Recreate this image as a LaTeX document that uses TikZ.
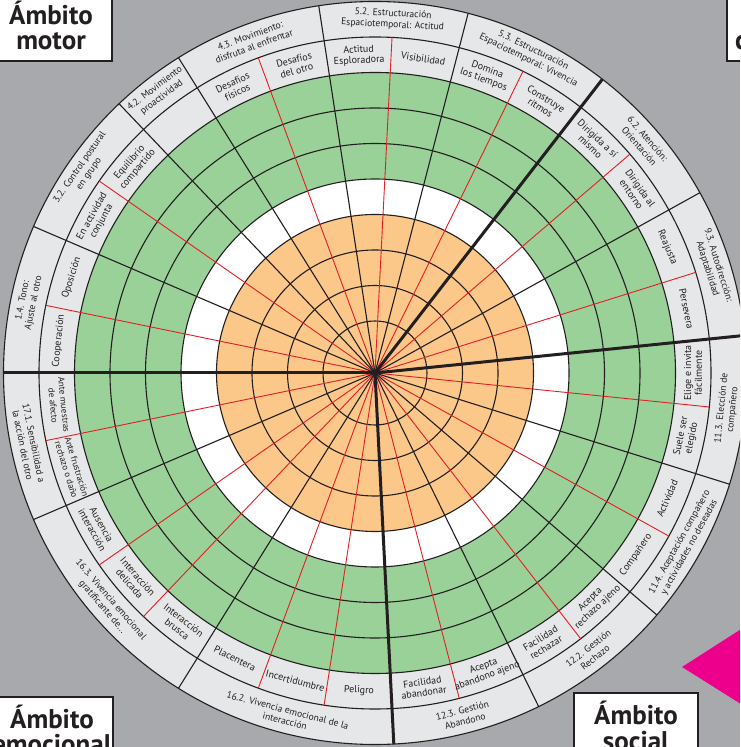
\documentclass[tikz,border=0pt]{standalone}
\usepackage{fontspec}
\setmainfont{PT Sans}
\definecolor{bg}{RGB}{167,169,172}
\definecolor{ringgray}{RGB}{230,231,232}
\definecolor{grn}{RGB}{153,209,153}
\definecolor{org}{RGB}{252,200,138}
\definecolor{redl}{RGB}{227,30,36}
\definecolor{ink}{RGB}{35,31,32}
\definecolor{pinkt}{RGB}{236,0,140}
\tikzset{
  thinline/.style={draw=ink, line width=1.1pt},
  redline/.style={draw=redl, line width=0.9pt},
  domline/.style={draw=ink, line width=3pt},
  inlbl/.style={font=\fontsize{10}{10.8}\selectfont, text=ink, align=center, inner sep=0pt},
  outlbl/.style={font=\fontsize{9.6}{11.2}\selectfont, text=ink, align=center, inner sep=0pt},
  boxtxt/.style={font=\fontsize{27}{27}\selectfont\bfseries, text=ink, inner sep=0pt},
  ambbox/.style={draw=ink, fill=white, line width=1.4pt},
}
\newcommand\seclbl[5]{%
  \pgfmathsetmacro\lblrot{(#3>0)?(#3-90):(#3+90)}%
  \node[#1, rotate=\lblrot] (#2) at (#3:#4) {#5};}
\begin{document}
\begin{tikzpicture}[x=1pt,y=1pt]
\useasboundingbox (0,0) rectangle (740,747);
\clip (0,0) rectangle (740,747);
\fill[bg] (0,0) rectangle (740,747);
\begin{scope}[shift={(375,374)}]
  \fill[ringgray] (0,0) circle (371.5);
  \fill[grn] (0,0) circle (300.5);
  \fill[white] (0,0) circle (194);
  \fill[org] (0,0) circle (158.5);
  \foreach \r in {52,87.5,123,158.5,194,229.5,265,300.5,336,371.5}
    \draw[thinline] (0,0) circle (\r);
  \foreach \j in {1,3,6,8,10,12,14,16,18,20,22,24,25,27,28,30}
    \draw[redline] (0,0) -- ({180-\j*360/31}:336);
  \foreach \j in {2,4,5,7,9,13,17,19,21,26,29}
    \draw[thinline] (0,0) -- ({180-\j*360/31}:371.5);
  \foreach \j in {0,11,15,23}
    \draw[domline] (0,0) -- ({180-\j*360/31}:371.5);
  % inner ring labels
  \seclbl{inlbl}{s0}{174.19}{318}{Cooperación}
  \seclbl{inlbl}{s1}{162.58}{318}{Oposición}
  \seclbl{inlbl}{s2}{150.97}{318}{En actividad\\conjunta}
  \seclbl{inlbl}{s3}{139.35}{318}{Equilibrio\\compartido}
  \seclbl{inlbl}{s5}{116.13}{318}{Desafíos\\físicos}
  \seclbl{inlbl}{s6}{104.52}{318}{Desafíos\\del otro}
  \seclbl{inlbl}{s7}{92.90}{318}{Actitud\\Esploradora}
  \seclbl{inlbl}{s8}{81.29}{318}{Visibilidad}
  \seclbl{inlbl}{s9}{69.68}{318}{Domina\\los tiempos}
  \seclbl{inlbl}{s10}{58.06}{318}{Construye\\ritmos}
  \seclbl{inlbl}{s11}{46.45}{318}{Dirigida a sí\\mismo}
  \seclbl{inlbl}{s12}{34.84}{318}{Dirigida al\\entorno}
  \seclbl{inlbl}{s13}{23.23}{318}{Reajusta}
  \seclbl{inlbl}{s14}{11.61}{318}{Persevera}
  \seclbl{inlbl}{s15}{0}{318}{Elige e invita\\fácilmente}
  \seclbl{inlbl}{s16}{-11.61}{318}{Suele ser\\elegido}
  \seclbl{inlbl}{s17}{-23.23}{318}{Actividad}
  \seclbl{inlbl}{s18}{-34.84}{318}{Compañero}
  \seclbl{inlbl}{s19}{-46.45}{318}{Acepta\\rechazo ajeno}
  \seclbl{inlbl}{s20}{-58.06}{318}{Facilidad\\rechazar}
  \seclbl{inlbl}{s21}{-69.68}{318}{Acepta\\abandono ajeno}
  \seclbl{inlbl}{s22}{-81.29}{318}{Facilidad\\abandonar}
  \seclbl{inlbl}{s23}{-92.90}{318}{Peligro}
  \seclbl{inlbl}{s24}{-104.52}{318}{Incertidumbre}
  \seclbl{inlbl}{s25}{-116.13}{318}{Placentera}
  \seclbl{inlbl}{s26}{-127.74}{318}{Interacción\\brusca}
  \seclbl{inlbl}{s27}{-139.35}{318}{Interacción\\delicada}
  \seclbl{inlbl}{s28}{-150.97}{318}{Ausencia\\interacción}
  \seclbl{inlbl}{s29}{-162.58}{318}{\fontsize{9}{10}\selectfont Ante frustración\\\fontsize{9}{10}\selectfont rechazo o daño}
  \seclbl{inlbl}{s30}{-174.19}{318}{\fontsize{9}{10}\selectfont Ante muestras\\\fontsize{9}{10}\selectfont de afecto}
  % outer ring labels
  \seclbl{outlbl}{c14}{168.39}{354}{1.4. Tono:\\Ajuste al otro}
  \seclbl{outlbl}{c32}{145.16}{354}{3.2. Control postural\\en grupo}
  \seclbl{outlbl}{c42}{127.74}{354}{4.2. Movimiento\\proactividad}
  \seclbl{outlbl}{c43}{110.32}{354}{4.3. Movimiento:\\disfruta al enfrentar}
  \seclbl{outlbl}{c52}{87.10}{354}{5.2. Estructuración\\Espaciotemporal: Actitud}
  \seclbl{outlbl}{c53}{63.87}{354}{5.3. Estructuración\\Espaciotemporal: Vivencia}
  \seclbl{outlbl}{c62}{40.65}{354}{6.2. Atención:\\Orientación}
  \seclbl{outlbl}{c93}{17.42}{354}{9.3. Autodirección:\\Adaptabilidad}
  \seclbl{outlbl}{c113}{-5.81}{354}{11.3. Elección de\\compañero}
  \seclbl{outlbl}{c114}{-29.03}{354}{11.4. Aceptación compañero\\y actividades no deseadas}
  \seclbl{outlbl}{c122}{-52.26}{354}{12.2. Gestión\\Rechazo}
  \seclbl{outlbl}{c123}{-75.48}{354}{12.3. Gestión\\Abandono}
  \seclbl{outlbl}{c162}{-104.52}{354}{16.2. Vivencia emocional de la\\interacción}
  \seclbl{outlbl}{c163}{-139.35}{354}{16.3. Vivencia emocional\\gratificante de...}
  \seclbl{outlbl}{c171}{-168.39}{354}{17.1. Sensibilidad a\\la acción del otro}
\end{scope}
% domain boxes
\draw[ambbox] (-5,752) rectangle (112,686);
\node[boxtxt, anchor=base] (motA) at (51,722) {Ámbito};
\node[boxtxt, anchor=base] (motB) at (51,697) {motor};
\draw[ambbox] (-5,50) rectangle (113,-13);
\node[boxtxt, anchor=base] (emoA) at (52,19) {Ámbito};
\node[boxtxt, anchor=base] (emoB) at (52,-6) {emocional};
\draw[ambbox] (574,54) rectangle (698,-13);
\node[boxtxt, anchor=base] (socA) at (636,22) {Ámbito};
\node[boxtxt, anchor=base] (socB) at (636,-3) {social};
\draw[ambbox] (727,752) rectangle (880,686);
\node[boxtxt, anchor=base west] (cogB) at (735,697) {cognitivo};
\node[boxtxt, anchor=base] (cogA) at ([yshift=25pt]cogB.base) {Ámbito};
% pointer triangle
\fill[pinkt] (682,80) -- (760,130) -- (760,31) -- cycle;
\end{tikzpicture}
\end{document}
